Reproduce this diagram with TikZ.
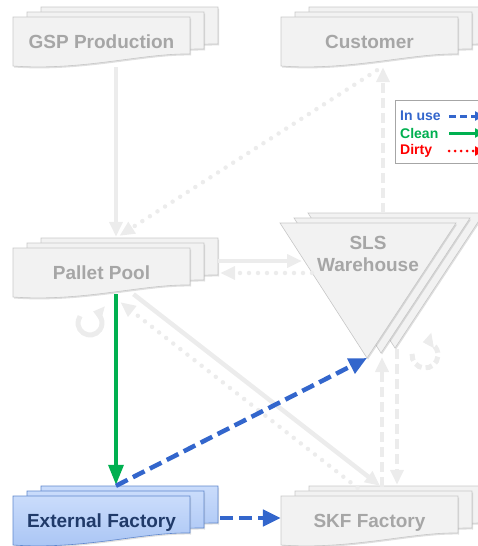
\documentclass[tikz,border=0pt]{standalone}
\usepackage{fontspec}
\setmainfont{Liberation Sans}
\usetikzlibrary{arrows.meta,calc,shadows}

\definecolor{pagefill}{RGB}{242,242,242}
\definecolor{pageline}{RGB}{200,200,200}
\definecolor{pagetext}{RGB}{166,166,166}
\definecolor{faint}{RGB}{236,236,236}
\definecolor{useblue}{RGB}{51,102,204}
\definecolor{cleangreen}{RGB}{0,176,80}
\definecolor{dirtyred}{RGB}{255,0,0}
\definecolor{exttop}{RGB}{202,220,251}
\definecolor{extbottom}{RGB}{168,196,244}
\definecolor{extline}{RGB}{95,135,205}
\definecolor{exttext}{RGB}{32,58,105}

% one page of a stacked document, top-left corner at (#1,#2)
\newcommand\pagepath[2]{(#1,#2) -- (#1+177,#2) -- (#1+177,#2+37)
  .. controls (#1+130,#2+36) and (#1+70,#2+54) .. (#1,#2+49) -- cycle}
% three stacked pages, front page top-left at (#1,#2), page style #3
\newcommand\docstack[3]{%
  \foreach \k in {2,1,0}{\filldraw[#3] \pagepath{#1+14*\k}{#2-5*\k};}}
% three stacked inverted triangles, front one top-left at (#1,#2)
\newcommand\tristack[2]{%
  \foreach \k in {2,1,0}{\filldraw[page] (#1+14*\k,#2-5*\k) -- ++(176,0) -- ++(-89,135) -- cycle;}}

\begin{document}
\begin{tikzpicture}[x=1pt,y=-1pt,
  page/.style={fill=pagefill,draw=pageline,line width=0.6pt,
    drop shadow={shadow xshift=1pt,shadow yshift=-1.5pt,opacity=0.25}},
  bluepage/.style={page,top color=exttop,bottom color=extbottom,draw=extline},
  boxlabel/.style={font=\bfseries\fontsize{19}{22}\selectfont,text=pagetext,
    inner sep=0pt,minimum width=177pt,minimum height=50pt,align=center},
  faintline/.style={draw=faint,line width=4.5pt},
  faintarrow/.style={faintline,-{Triangle[length=15pt,width=13pt]}},
  faintdots/.style={faintarrow,line cap=round,dash pattern=on 0pt off 9pt},
  faintdash/.style={faintarrow,dash pattern=on 10pt off 5pt},
  loopline/.style={draw=faint,line width=5pt,-{Triangle[length=10pt,width=15pt]}},
  usedash/.style={draw=useblue,line width=4.5pt,dash pattern=on 13pt off 6pt,
    -{Triangle[length=18pt,width=16pt]}},
  cleanarrow/.style={draw=cleangreen,line width=3.5pt,
    -{Triangle[length=20pt,width=15pt]}},
  legtext/.style={font=\bfseries\fontsize{14}{17}\selectfont,inner sep=0pt,anchor=west}]

\useasboundingbox (0,0) rectangle (478,546);
\clip (0,0) rectangle (478,546);

% stacked shapes
\docstack{13}{17}{page}
\docstack{281}{17}{page}
\docstack{13}{248}{page}
\docstack{13}{496}{bluepage}
\docstack{281}{496}{page}
\tristack{280}{223}

% labels
\node[boxlabel] (gsp)  at (101.5,42) {GSP Production};
\node[boxlabel] (cust) at (369.5,42) {Customer};
\node[boxlabel] (pool) at (101.5,272.5) {Pallet Pool};
\node[boxlabel,text=exttext] (ext) at (101.5,522.5) {External Factory};
\node[boxlabel] (skf)  at (369.5,522.5) {SKF Factory};
\node[boxlabel,minimum height=0pt] (sls) at (368,254) {SLS\\Warehouse};

% points on the warehouse triangles
\coordinate (slsTop) at (383,213);
\coordinate (slsInA) at (302,261);
\coordinate (slsOutB) at (312,273);
\coordinate (slsUp) at (382,357);
\coordinate (slsDn) at (397,349);
\coordinate (slsTip) at (367,358);

% faint flows
\draw[faintarrow] ($(gsp.south)+(14.5,0)$) -- ($(pool.north)+(14.5,-10.5)$);
\draw[faintdots] ($(cust.south)+(7.5,3)$) -- ($(pool.north)+(18,-11.5)$);
\draw[faintdash] (slsTop) -- ($(cust.south)+(13.5,0)$);
\draw[faintarrow] ($(pool.east)+(28,-11.5)$) -- (slsInA);
\draw[faintdots] (slsOutB) -- ($(pool.east)+(30,0.5)$);
\draw[faintarrow] ($(pool.south)+(32,-3.5)$) -- ($(skf.north)+(10.5,-11.5)$);
\draw[faintdots] ($(skf.north)+(-12,-9.5)$) -- ($(pool.south)+(19,4.5)$);
\draw[faintdash] ($(skf.north)+(12.5,-10.5)$) -- (slsUp);
\draw[faintdash] (slsDn) -- ($(skf.north)+(27.5,-12.5)$);

% loops
\draw[loopline] (90,323) ++(215:12) arc[start angle=215,end angle=-75,radius=12];
\draw[loopline,dash pattern=on 7pt off 4pt]
  (425,355) ++(185:13) arc[start angle=185,end angle=-100,radius=13];

% highlighted flows
\draw[cleanarrow] ($(pool.south)+(14.5,-3.5)$) -- ($(ext.north)+(14.5,-12.5)$);
\draw[usedash] ($(ext.north)+(14.5,-11.5)$) -- (slsTip);
\draw[usedash] ($(ext.east)+(30,-4.5)$) -- ($(skf.west)+(0,-4.5)$);

% legend
\node[draw=black!35,fill=white,line width=0.6pt,minimum width=100pt,
  minimum height=63pt,anchor=north west,inner sep=0pt] (legend) at (395,100) {};
\node[legtext,text=useblue] (kuse) at (400,116) {In use};
\node[legtext,text=cleangreen] (kclean) at (400,133) {Clean};
\node[legtext,text=dirtyred] (kdirty) at (400,151) {Dirty};
\draw[draw=useblue,line width=3pt,dash pattern=on 7pt off 4pt,
  -{Triangle[length=9pt,width=9pt]}] (449,116) -- (484,116);
\draw[draw=cleangreen,line width=3pt,-{Triangle[length=9pt,width=9pt]}]
  (449,133) -- (484,133);
\draw[draw=dirtyred,line width=3pt,line cap=round,dash pattern=on 0pt off 6pt,
  -{Triangle[length=9pt,width=9pt]}] (449,151) -- (484,151);
\end{tikzpicture}
\end{document}
